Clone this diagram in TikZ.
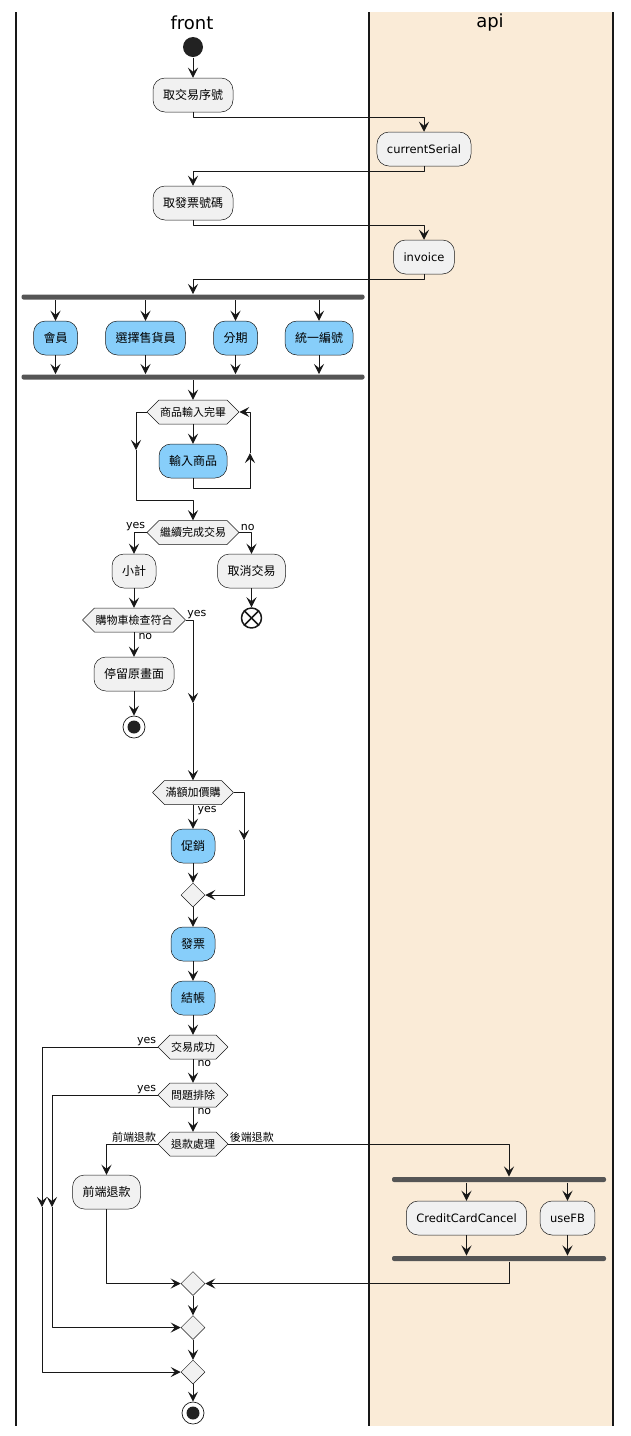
\documentclass[tikz,border=0pt]{standalone}
\usepackage{fontspec}
\setmainfont{DejaVu Sans}
\newfontfamily\cjk{Noto Sans CJK TC}
\usetikzlibrary{arrows.meta,shapes.geometric,shapes.symbols}
\definecolor{linec}{HTML}{181818}
\definecolor{actgray}{HTML}{F1F1F1}
\definecolor{skyblue}{HTML}{87CEFA}
\definecolor{barc}{HTML}{555555}
\definecolor{lanec}{HTML}{FAEBD7}
\definecolor{dotc}{HTML}{222222}
\tikzset{
  act/.style={draw=linec,line width=0.5pt,fill=actgray,rounded corners=12pt,minimum height=34pt,inner xsep=10pt,inner ysep=0pt,font=\fontsize{12}{14}\selectfont\cjk},
  actblue/.style={act,fill=skyblue},
  actlat/.style={act,font=\fontsize{11.5}{14}\selectfont},
  choice/.style={shape=signal,signal to=east and west,signal pointer angle=90,draw=linec,line width=0.5pt,fill=actgray,minimum height=24pt,inner xsep=1pt,inner ysep=0pt,font=\fontsize{11}{13}\selectfont\cjk},
  merge/.style={diamond,draw=linec,line width=0.5pt,fill=actgray,minimum width=24pt,minimum height=24pt,inner sep=0pt},
  bar/.style={fill=barc,rounded corners=2pt,minimum height=5pt,inner sep=0pt},
  lbl/.style={font=\fontsize{11}{13}\selectfont,inner sep=1pt},
  lblcjk/.style={lbl,font=\fontsize{11}{13}\selectfont\cjk},
}
\begin{document}
\begin{tikzpicture}[>={Stealth[length=10pt,width=10pt,inset=4pt]},line join=round,x=1pt,y=-1pt,line width=1pt,draw=linec]
	\useasboundingbox (0,0) rectangle (631,1436);
	% lanes
	\fill[lanec] (369,12) rectangle (613,1426);
	\draw[line width=1.5pt] (16,12) -- (16,1426);
	\draw[line width=1.5pt] (369,12) -- (369,1426);
	\draw[line width=1.5pt] (613,12) -- (613,1426);
	\node[font=\fontsize{18}{20}\selectfont] (tfront) at (192,23) {front};
	\node[font=\fontsize{18}{20}\selectfont] (tapi) at (490,23) {api};
	% nodes
	\node[circle,fill=dotc,minimum size=20pt,inner sep=0pt] (start) at (193,47) {};
	\node[act] (a1) at (193,95) {取交易序號};
	\node[actlat] (cs) at (424,149) {currentSerial};
	\node[act] (a2) at (193,203) {取發票號碼};
	\node[actlat] (inv) at (424,257) {invoice};
	\node[bar,minimum width=343pt] (fork1) at (193,297) {};
	\node[actblue] (c1) at (55.5,338) {會員};
	\node[actblue] (c2) at (145.5,338) {選擇售貨員};
	\node[actblue] (c3) at (235.5,338) {分期};
	\node[actblue] (c4) at (319,338) {統一編號};
	\node[bar,minimum width=343pt] (join1) at (193,377) {};
	\node[choice] (w1) at (193,412) {商品輸入完畢};
	\node[actblue] (a3) at (193,461) {輸入商品};
	\node[choice] (d1) at (193,532.5) {繼續完成交易};
	\node[act] (a4) at (134,571) {小計};
	\node[act] (a5) at (251.5,571) {取消交易};
	\node[circle,draw=linec,line width=1.5pt,minimum size=20pt,inner sep=0pt] (endx) at (251.5,618) {};
	\node[choice] (d2) at (134,620) {購物車檢查符合};
	\node[act] (a6) at (134,674) {停留原畫面};
	\node[circle,draw=linec,line width=0.7pt,minimum size=22pt,inner sep=0pt] (stop1) at (134,727) {};
	\node[choice] (d3) at (193,792.5) {滿額加價購};
	\node[actblue] (a7) at (193,846) {促銷};
	\node[merge] (m1) at (193,895) {};
	\node[actblue] (a8) at (193,944) {發票};
	\node[actblue] (a9) at (193,998) {結帳};
	\node[choice] (d4) at (193,1047) {交易成功};
	\node[choice] (d5) at (193,1095) {問題排除};
	\node[choice] (d6) at (193,1144) {退款處理};
	\node[act] (a10) at (106.5,1192) {前端退款};
	\node[bar,minimum width=214pt] (fork2) at (499,1179.5) {};
	\node[actlat] (a11) at (466.5,1218) {CreditCardCancel};
	\node[actlat] (a12) at (567.5,1218) {useFB};
	\node[bar,minimum width=214pt] (join2) at (499,1258.5) {};
	\node[merge] (m2) at (193,1283.5) {};
	\node[merge] (m3) at (193,1327.5) {};
	\node[merge] (m4) at (193,1372) {};
	\node[circle,draw=linec,line width=0.7pt,minimum size=22pt,inner sep=0pt] (stop2) at (193,1413) {};
	\fill[dotc] (stop1) circle (6.5pt);
	\fill[dotc] (stop2) circle (6.5pt);
	\draw[line width=1.5pt] (endx.north west) -- (endx.south east);
	\draw[line width=1.5pt] (endx.north east) -- (endx.south west);
	% turning points
	\coordinate (lpB) at (250,488);
	\coordinate (lpM) at (250,453);
	\coordinate (exM) at (136,450);
	\coordinate (exB) at (136,500);
	\coordinate (ym) at (193,703);
	\coordinate (em) at (244,840);
	\coordinate (y1m) at (42,1207);
	\coordinate (y2m) at (52,1207);
	\coordinate (bk) at (509,1144);
	% connectors
	\draw[->] (start) -- (a1);
	\draw[->] (a1.south) -- ++(0,5) -| (cs.north);
	\draw[->] (cs.south) -- ++(0,5) -| (a2.north);
	\draw[->] (a2.south) -- ++(0,5) -| (inv.north);
	\draw[->] (inv.south) -- ++(0,5) -| (fork1.north);
	\foreach \c in {c1,c2,c3,c4} {
		\draw[->] (fork1.south -| \c.north) -- (\c.north);
		\draw[->] (\c.south) -- (join1.north -| \c.south);
	}
	\draw[->] (join1.south) -- (w1.north);
	\draw[->] (w1.south) -- (a3.north);
	\draw[->] (a3.south) |- (lpB) -- (lpM);
	\draw[->] (lpM) |- (w1.east);
	\draw[->] (w1.west) -| (exM);
	\draw[->] (exM) |- (d1.north |- exB) -- (d1.north);
	\draw[->] (d1.west) -| (a4.north);
	\draw[->] (d1.east) -| (a5.north);
	\draw[->] (a5.south) -- (endx.north);
	\draw[->] (a4.south) -- (d2.north);
	\draw[->] (d2.south) -- (a6.north);
	\draw[->] (a6.south) -- (stop1.north);
	\draw[->] (d2.east) -| (ym);
	\draw[->] (ym) -- (d3.north);
	\draw[->] (d3.south) -- (a7.north);
	\draw[->] (a7.south) -- (m1.north);
	\draw[->] (d3.east) -| (em);
	\draw[->] (em) |- (m1.east);
	\draw[->] (m1.south) -- (a8.north);
	\draw[->] (a8.south) -- (a9.north);
	\draw[->] (a9.south) -- (d4.north);
	\draw[->] (d4.west) -| (y1m);
	\draw[->] (y1m) |- (m4.west);
	\draw[->] (d4.south) -- (d5.north);
	\draw[->] (d5.west) -| (y2m);
	\draw[->] (y2m) |- (m3.west);
	\draw[->] (d5.south) -- (d6.north);
	\draw[->] (d6.west) -| (a10.north);
	\draw[->] (d6.east) -- (bk) -- (bk |- fork2.north);
	\draw[->] (fork2.south -| a11.north) -- (a11.north);
	\draw[->] (fork2.south -| a12.north) -- (a12.north);
	\draw[->] (a11.south) -- (join2.north -| a11.south);
	\draw[->] (a12.south) -- (join2.north -| a12.south);
	\draw[->] (join2.south -| bk) |- (m2.east);
	\draw[->] (a10.south) |- (m2.west);
	\draw[->] (m2.south) -- (m3.north);
	\draw[->] (m3.south) -- (m4.north);
	\draw[->] (m4.south) -- (stop2.north);
	% labels
	\node[lbl,anchor=south east] (l1) at (d1.west) {yes};
	\node[lbl,anchor=south west] (l2) at (d1.east) {no};
	\node[lbl,anchor=south west] (l3) at (d2.east) {yes};
	\node[lbl,anchor=north west,xshift=3pt] (l4) at (d2.south) {no};
	\node[lbl,anchor=north west,xshift=3pt] (l5) at (d3.south) {yes};
	\node[lbl,anchor=south east] (l6) at (d4.west) {yes};
	\node[lbl,anchor=north west,xshift=3pt] (l7) at (d4.south) {no};
	\node[lbl,anchor=south east] (l8) at (d5.west) {yes};
	\node[lbl,anchor=north west,xshift=3pt] (l9) at (d5.south) {no};
	\node[lblcjk,anchor=south east] (l10) at (d6.west) {前端退款};
	\node[lblcjk,anchor=south west] (l11) at (d6.east) {後端退款};
\end{tikzpicture}
\end{document}
